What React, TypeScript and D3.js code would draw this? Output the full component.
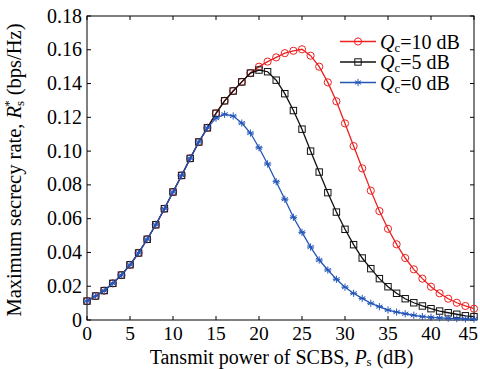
import React from "react";
import * as d3 from "d3";

// transmit power of SCBS (dB)
const powers = d3.range(0, 46);

// shared rising part of all three curves (0..18 dB)
const common = [
  0.0112, 0.0142, 0.0174, 0.0217, 0.0266, 0.0327, 0.0397, 0.0478, 0.0564, 0.0659,
  0.0758, 0.0856, 0.0957, 0.1054, 0.1138, 0.1224, 0.1298, 0.1356, 0.141,
];

const qc10 = [
  ...common,
  0.1462, 0.150, 0.153, 0.1555, 0.158, 0.1594, 0.1603, 0.1565, 0.150, 0.1407,
  0.1295, 0.1164, 0.103, 0.0898, 0.0766, 0.0645, 0.054, 0.0448, 0.0367, 0.030,
  0.0245, 0.0197, 0.0158, 0.0126, 0.0102, 0.0083, 0.0067,
];

const qc5 = [
  ...common,
  0.1462, 0.148, 0.147, 0.142, 0.134, 0.124, 0.113, 0.100, 0.0876, 0.0754,
  0.0639, 0.0537, 0.0446, 0.0367, 0.0304, 0.0245, 0.0197, 0.0158, 0.0126, 0.0102,
  0.0083, 0.0067, 0.0053, 0.0043, 0.0034, 0.0025, 0.002,
];

const qc0 = [
  ...common.slice(0, 15),
  0.1195, 0.1218, 0.1208, 0.1166, 0.1107, 0.102, 0.0924, 0.0819, 0.0715, 0.0608,
  0.0519, 0.0432, 0.0355, 0.0296, 0.0241, 0.0194, 0.0158, 0.0128, 0.0099, 0.0079,
  0.0059, 0.0047, 0.0037, 0.0028, 0.002, 0.0016, 0.0013, 0.001, 0.0008, 0.0006,
  0.0005,
];

const xTicks = [0, 5, 10, 15, 20, 25, 30, 35, 40, 45];
const yTicks = [0, 0.02, 0.04, 0.06, 0.08, 0.1, 0.12, 0.14, 0.16, 0.18];
const yTickLabels = ["0", "0.02", "0.04", "0.06", "0.08", "0.10", "0.12", "0.14", "0.16", "0.18"];

const series = [
  { label: "10 dB", values: qc10, color: "#ee2020", marker: "circle" },
  { label: "5 dB", values: qc5, color: "#111111", marker: "square" },
  { label: "0 dB", values: qc0, color: "#2456b8", marker: "star" },
];

const W = 480, H = 369;
const m = { left: 87, right: 6, top: 16, bottom: 49 };
const font = "'Liberation Serif', 'Times New Roman', serif";
const fs = 20;

function Marker({ type, x, y, color }: { type: string; x: number; y: number; color: string }) {
  if (type === "circle")
    return <circle cx={x} cy={y} r={3.6} fill="none" stroke={color} strokeWidth={1} />;
  if (type === "square")
    return <rect x={x - 3.2} y={y - 3.2} width={6.4} height={6.4} fill="none" stroke={color} strokeWidth={1} />;
  const r = 3.6;
  const d = [0, 60, 120].map(a => {
    const rad = (a * Math.PI) / 180;
    const dx = r * Math.sin(rad), dy = r * Math.cos(rad);
    return `M${x - dx},${y - dy}L${x + dx},${y + dy}`;
  }).join("") + `M${x - r},${y}L${x + r},${y}`;
  return <path d={d} stroke={color} strokeWidth={1} fill="none" />;
}

export default function App() {
  const x = d3.scaleLinear().domain([0, 45]).range([m.left, W - m.right]);
  const y = d3.scaleLinear().domain([0, 0.18]).range([H - m.bottom, m.top]);
  const line = d3.line<number>().x((_, i) => x(powers[i])).y(d => y(d));
  const x0 = x.range()[0], x1 = x.range()[1];
  const y0 = y.range()[0], y1 = y.range()[1];
  const tl = 4;

  return (
    <svg width={W} height={H} style={{ position: "absolute", left: 0, top: 0, background: "#fff" }} fontFamily={font}>
      <defs>
        <clipPath id="plot">
          <rect x={x0 - 5} y={y1} width={x1 - x0 + 10} height={y0 - y1 + 5} />
        </clipPath>
      </defs>
      <rect x={x0} y={y1} width={x1 - x0} height={y0 - y1} fill="none" stroke="#000" strokeWidth={1} />
      {xTicks.map((t, i) => {
        const last = i === xTicks.length - 1;
        return (
          <g key={"x" + t}>
            <line x1={x(t)} x2={x(t)} y1={y0} y2={y0 - tl} stroke="#000" />
            <line x1={x(t)} x2={x(t)} y1={y1} y2={y1 + tl} stroke="#000" />
            <text x={last ? W - 2 : x(t)} y={y0 + 20} textAnchor={last ? "end" : "middle"} fontSize={fs - 0.5}>{t}</text>
          </g>
        );
      })}
      {yTicks.map((t, i) => (
        <g key={"y" + t}>
          <line x1={x0} x2={x0 + tl} y1={y(t)} y2={y(t)} stroke="#000" />
          <line x1={x1} x2={x1 - tl} y1={y(t)} y2={y(t)} stroke="#000" />
          <text x={x0 - 5} y={y(t) + 6.5} textAnchor="end" fontSize={fs}>{yTickLabels[i]}</text>
        </g>
      ))}
      <g clipPath="url(#plot)">
        {series.map(s => (
          <g key={s.label}>
            <path d={line(s.values) || ""} fill="none" stroke={s.color} strokeWidth={1.3} />
            {s.values.map((v, i) => (
              <Marker key={i} type={s.marker} x={x(powers[i])} y={y(v)} color={s.color} />
            ))}
          </g>
        ))}
      </g>
      {series.map((s, i) => {
        const ly = 41.5 + i * 20.5;
        return (
          <g key={"lg" + s.label}>
            <line x1={340} x2={376} y1={ly} y2={ly} stroke={s.color} strokeWidth={1.3} />
            <Marker type={s.marker} x={358} y={ly} color={s.color} />
            <text x={380} y={ly + 7} fontSize={fs}>
              <tspan fontStyle="italic">Q</tspan>
              <tspan fontSize={13} dy={3}>c</tspan>
              <tspan dy={-3}>{"=" + s.label}</tspan>
            </text>
          </g>
        );
      })}
      <text x={(x0 + x1) / 2 + 1} y={364} textAnchor="middle" fontSize={fs}>
        Tansmit power of SCBS, <tspan fontStyle="italic">P</tspan>
        <tspan fontSize={13} dy={2}>s</tspan>
        <tspan dy={-2}> (dB)</tspan>
      </text>
      <text transform={`translate(21,${(y0 + y1) / 2 + 2}) rotate(-90)`} textAnchor="middle" fontSize={fs + 0.5}>
        Maximum secrecy rate, <tspan fontStyle="italic">R</tspan>
        <tspan fontSize={13} dy={3}>s</tspan>
        <tspan fontSize={13} dy={-11} dx={-6}>*</tspan>
        <tspan dy={8}> (bps/Hz)</tspan>
      </text>
    </svg>
  );
}
